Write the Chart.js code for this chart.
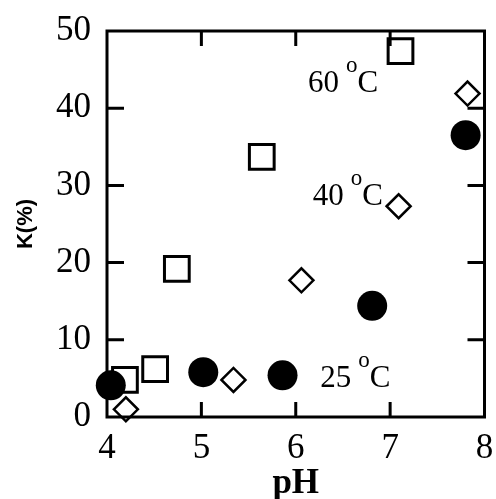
<!DOCTYPE html>
<html>
<head>
<meta charset="utf-8">
<script src="https://cdn.jsdelivr.net/npm/chart.js@4.4.1/dist/chart.umd.min.js"></script>
<style>
  html, body { margin: 0; padding: 0; background: #fff; }
  #wrap { width: 496px; height: 499px; overflow: hidden; }
</style>
</head>
<body>
<div id="wrap"><canvas id="kChart" width="505" height="505"></canvas></div>
<script>
// K(%) against pH, one series per temperature
const pH60 = [4.19, 4.51, 4.74, 5.64, 7.11];
const k60  = [4.8, 6.2, 19.2, 33.7, 47.4];
const pH40 = [4.20, 5.34, 6.06, 7.09, 7.82];
const k40  = [1.0, 4.8, 17.7, 27.3, 41.9];
const pH25 = [4.04, 5.02, 5.86, 6.81, 7.80];
const k25  = [4.1, 5.8, 5.4, 14.4, 36.5];

const xTicks = [4, 5, 6, 7, 8];
const yTicks = [0, 10, 20, 30, 40, 50];

const tempLabels = ['60', '40', '25'];
// where each temperature label sits, in (pH, K) units
const labelAnchors = [[6.13, 42.1], [6.18, 27.5], [6.26, 3.9]];

const toPoints = (xs, ys) => xs.map((v, i) => ({ x: v, y: ys[i] }));

const serif = '"Liberation Serif", "Times New Roman", serif';

// box round the plot with short inward ticks on all four sides
const framePlugin = {
    id: 'frame',
    afterDatasetsDraw(chart) {
        const { ctx, chartArea: a, scales: { x, y } } = chart;
        ctx.save();
        ctx.strokeStyle = '#000';
        ctx.lineWidth = 3;
        ctx.strokeRect(a.left, a.top, a.right - a.left, a.bottom - a.top);
        ctx.beginPath();
        x.ticks.forEach(t => {
            if (t.value === x.min || t.value === x.max) return;
            const px = x.getPixelForValue(t.value);
            ctx.moveTo(px, a.bottom);
            ctx.lineTo(px, a.bottom - 15);
            ctx.moveTo(px, a.top);
            ctx.lineTo(px, a.top + 15);
        });
        y.ticks.forEach(t => {
            if (t.value === y.min || t.value === y.max) return;
            const py = y.getPixelForValue(t.value);
            ctx.moveTo(a.left, py);
            ctx.lineTo(a.left + 17, py);
            ctx.moveTo(a.right, py);
            ctx.lineTo(a.right - 17, py);
        });
        ctx.stroke();
        ctx.restore();
    }
};

// "60 °C" style labels with a raised small o
const tempLabelPlugin = {
    id: 'tempLabels',
    afterDatasetsDraw(chart) {
        const { ctx, scales: { x, y } } = chart;
        ctx.save();
        ctx.fillStyle = '#000';
        ctx.textBaseline = 'alphabetic';
        ctx.textAlign = 'left';
        tempLabels.forEach((t, i) => {
            const px = x.getPixelForValue(labelAnchors[i][0]);
            const py = y.getPixelForValue(labelAnchors[i][1]);
            ctx.font = '31px ' + serif;
            ctx.fillText(t, px, py);
            let cx = px + ctx.measureText(t).width + 7;
            ctx.font = '23px ' + serif;
            ctx.fillText('o', cx, py - 20);
            cx += ctx.measureText('o').width;
            ctx.font = '31px ' + serif;
            ctx.fillText('C', cx, py);
        });
        ctx.restore();
    }
};

new Chart(document.getElementById('kChart').getContext('2d'), {
    type: 'scatter',
    data: {
        datasets: [
            {
                label: '40 °C',
                data: toPoints(pH40, k40),
                pointStyle: 'rectRot',
                pointRadius: 12,
                borderWidth: 2.5,
                borderColor: '#000',
                backgroundColor: '#fff',
                clip: false
            },
            {
                label: '25 °C',
                data: toPoints(pH25, k25),
                pointStyle: 'circle',
                pointRadius: 15,
                borderWidth: 0,
                borderColor: '#000',
                backgroundColor: '#000',
                clip: false
            },
            {
                label: '60 °C',
                data: toPoints(pH60, k60),
                pointStyle: 'rect',
                pointRadius: 17.5,
                borderWidth: 3,
                borderColor: '#000',
                backgroundColor: '#fff',
                clip: false
            }
        ]
    },
    options: {
        responsive: false,
        animation: false,
        events: [],
        layout: {
            padding: { top: 31, right: 17, bottom: 0, left: 0 }
        },
        scales: {
            x: {
                type: 'linear',
                min: 4,
                max: 8,
                afterBuildTicks: s => { s.ticks = xTicks.map(v => ({ value: v })); },
                afterFit: s => { s.height = 88; },
                ticks: {
                    color: '#000',
                    padding: 3,
                    font: { family: serif, size: 35 }
                },
                grid: { display: false },
                border: { display: false },
                title: {
                    display: true,
                    text: 'pH',
                    color: '#000',
                    padding: 0,
                    font: { family: serif, size: 35, weight: 'bold' }
                }
            },
            y: {
                type: 'linear',
                min: 0,
                max: 50,
                afterBuildTicks: s => { s.ticks = yTicks.map(v => ({ value: v })); },
                afterFit: s => { s.width = 107; },
                ticks: {
                    color: '#000',
                    padding: 8,
                    font: { family: serif, size: 35 }
                },
                grid: { display: false },
                border: { display: false },
                title: {
                    display: true,
                    text: 'K(%)',
                    color: '#000',
                    padding: { top: 13, bottom: 0 },
                    font: { family: '"Liberation Sans", Arial, sans-serif', size: 22, weight: 'bold' }
                }
            }
        },
        plugins: {
            legend: { display: false },
            tooltip: { enabled: false }
        }
    },
    plugins: [framePlugin, tempLabelPlugin]
});
</script>
</body>
</html>
